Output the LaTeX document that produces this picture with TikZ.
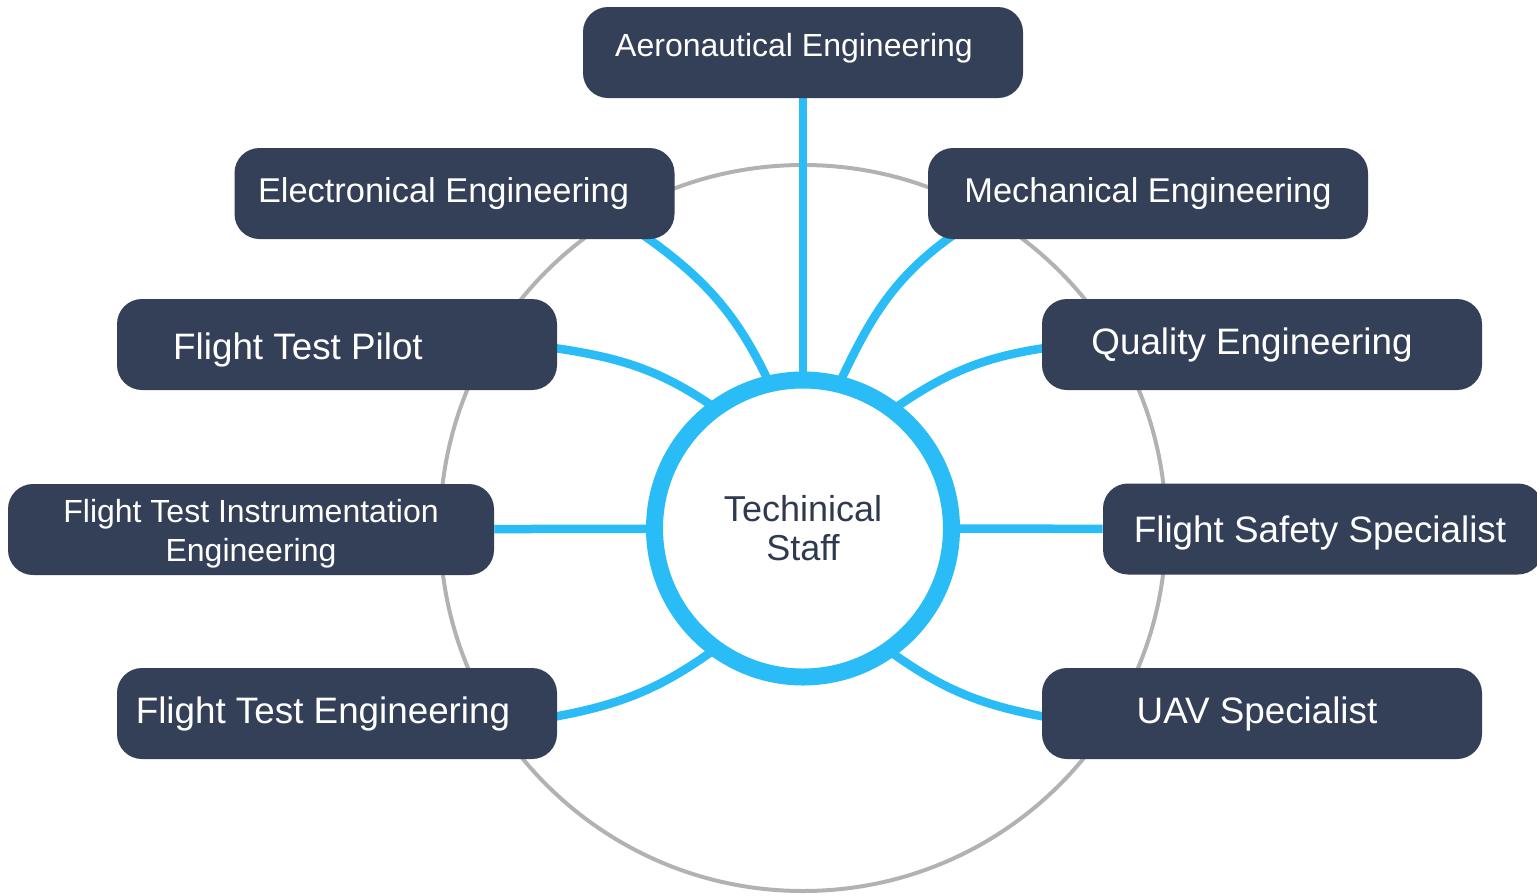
\documentclass[tikz,border=0pt]{standalone}
\usepackage{fontspec}
\setmainfont{Liberation Sans}
\usepackage{tikz}
\definecolor{boxblue}{RGB}{52,64,88}
\definecolor{linkblue}{RGB}{41,188,246}
\definecolor{ringgray}{RGB}{178,178,178}
\definecolor{hubtext}{RGB}{47,58,79}
\pgfdeclarelayer{bg}
\pgfsetlayers{bg,main}
\newcommand{\nudge}[2]{\raisebox{#1}[\height][\depth]{#2}}

\begin{document}
\begin{tikzpicture}[
      x=0.5pt,y=-0.5pt,
      box/.style={
        fill=boxblue,text=white,rounded corners=12.5pt,
        minimum width=220pt,minimum height=45.5pt,inner sep=0pt
      },
      fsmall/.style={font=\fontsize{16}{19.5}\selectfont},
      fmid/.style={font=\fontsize{17.2}{20}\selectfont},
      fbig/.style={font=\fontsize{18.4}{20}\selectfont},
      link/.style={line width=4.25pt,color=linkblue},
    ]
    \useasboundingbox (0,0) rectangle (1537,895);
    % centre
    \node[circle,draw=linkblue,fill=white,line width=8.5pt,minimum size=148.5pt,
      outer sep=0pt,align=center,text=hubtext,font=\fontsize{18}{19.5}\selectfont]
      (hub) at (803,528.5) {Techinical\\Staff};
    % branches
    \node[box,fsmall] (aero) at (803,52.5) {\hspace*{-9pt}\nudge{2pt}{Aeronautical Engineering}};
    \node[box,fmid] (elec) at (454.5,193.5) {\hspace*{-11pt}Electronical Engineering};
    \node[box,fmid] (mech) at (1148,193.5) {Mechanical Engineering};
    \node[box,fbig] (pilot) at (337,344.5) {\hspace*{-39pt}\nudge{-2.5pt}{Flight Test Pilot}};
    \node[box,fbig] (quality) at (1262,344.5) {\hspace*{-10pt}Quality Engineering};
    \node[box,fsmall,minimum width=243pt,align=center] (instr) at (251,529.5)
      {\nudge{-2pt}{Flight Test Instrumentation}\\\nudge{-2pt}{Engineering}};
    \node[box,fbig] (safety) at (1323,529) {\hspace*{-3pt}\nudge{-2pt}{Flight Safety Specialist}};
    \node[box,fbig] (fte) at (337,713.5) {\hspace*{-14pt}Flight Test Engineering};
    \node[box,fbig] (uav) at (1262,713.5) {\hspace*{-5pt}UAV Specialist};
    \begin{pgfonlayer}{bg}
      \draw[ringgray,line width=2pt] (803,528) circle[radius=363];
      \draw[link] (aero.south) -- (hub.north);
      \draw[link] ([shift={(-17pt,3pt)}]elec.south east) to[out=-35,in=115] (hub.103);
      \draw[link] ([shift={(14pt,3pt)}]mech.south west) to[out=215,in=65] (hub.76);
      \draw[link] ([shift={(-5pt,-1.25pt)}]pilot.east) to[out=-8,in=145] (hub.126);
      \draw[link] ([shift={(5pt,-1.25pt)}]quality.west) to[out=188,in=35] (hub.53);
      \draw[link] (instr) -- (hub);
      \draw[link] (safety) -- (hub);
      \draw[link] ([shift={(-5pt,-2.25pt)}]fte.east) to[out=10,in=-144] (hub.234);
      \draw[link] ([shift={(5pt,-2.25pt)}]uav.west) to[out=170,in=-36] (hub.305);
    \end{pgfonlayer}
  \end{tikzpicture}
\end{document}
